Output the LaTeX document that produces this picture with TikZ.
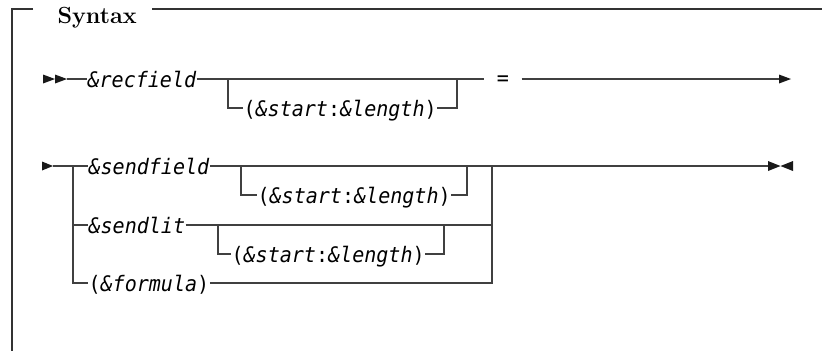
\documentclass[tikz,border=0pt]{standalone}
\usepackage{xcolor}
\usepackage{fontspec}
\usepackage{tikz}
\newfontfamily\railfont{DejaVu Sans Mono}[ItalicFont={DejaVu Sans Mono Oblique}, FakeStretch=0.94]
\newcommand{\railvar}[1]{{\itshape #1}}
\tikzset{
    rail/.style={font=\railfont\fontsize{16}{19}\selectfont, inner sep=0pt, text height=12.6pt, text depth=0pt, anchor=west},
    railtip/.style={fill=black!90},
    frame/.style={draw=black!80, line width=0.8pt}
}
\begin{document}
\begin{tikzpicture}[x=0.75pt,y=0.75pt,yscale=-1,xscale=1,line width=0.8pt,draw=black!75]
    \useasboundingbox (0,0) rectangle (822,351);
    \draw [frame] (33,9) -- (12,9) -- (12,351) ;
    \draw [frame] (152,9) -- (822,9) ;
    \node [anchor=base west, inner sep=0pt, font=\fontsize{17.5}{21}\selectfont\bfseries] (syntax) at (57,23) {Syntax};

    \fill [railtip] (43,74.5) -- (55,79) -- (43,83.5) -- cycle ;
    \fill [railtip] (55,74.5) -- (67,79) -- (55,83.5) -- cycle ;
    \coordinate (in1) at (67,79);
    \coordinate (split1) at (228,79);
    \coordinate (join1) at (457,79);
    \coordinate (out1) at (779,79);
    \node [rail] (recfield) at (87,79) {\railvar{\&recfield}};
    \node [rail] (range1) at (243,108) {(\railvar{\&start}:\railvar{\&length})};
    \node [rail, anchor=center, text height=10pt, inner xsep=9pt] (eq) at (503,79) {=};
    \draw (in1) -- (recfield.west) ;
    \draw (recfield.east) -- (eq.west) ;
    \draw (split1) |- (range1.west) ;
    \draw (range1.east) -| (join1) ;
    \draw (eq.east) -- (out1) ;
    \fill [railtip] (779,74.5) -- (791,79) -- (779,83.5) -- cycle ;

    \fill [railtip] (42,161.5) -- (53,166) -- (42,170.5) -- cycle ;
    \coordinate (in2) at (53,166);
    \coordinate (fork) at (73,166);
    \coordinate (split2) at (241,166);
    \coordinate (join2) at (467,166);
    \coordinate (split3) at (218,225);
    \coordinate (join3) at (444,225);
    \coordinate (merge) at (492,166);
    \coordinate (out2) at (768,166);
    \node [rail] (sendfield) at (88,166) {\railvar{\&sendfield}};
    \node [rail] (range2) at (257,195) {(\railvar{\&start}:\railvar{\&length})};
    \node [rail] (sendlit) at (88,225) {\railvar{\&sendlit}};
    \node [rail] (range3) at (231,254) {(\railvar{\&start}:\railvar{\&length})};
    \node [rail] (formula) at (88,283) {(\railvar{\&formula})};
    \draw (in2) -- (sendfield.west) ;
    \draw (fork) |- (sendlit.west) ;
    \draw (fork) |- (formula.west) ;
    \draw (sendfield.east) -- (merge) -- (out2) ;
    \draw (split2) |- (range2.west) ;
    \draw (range2.east) -| (join2) ;
    \draw (sendlit.east) -- (sendlit.east -| merge) ;
    \draw (split3) |- (range3.west) ;
    \draw (range3.east) -| (join3) ;
    \draw (formula.east) -| (merge) ;
    \fill [railtip] (768,161) -- (780.5,166) -- (768,171) -- cycle ;
    \fill [railtip] (793,161) -- (780.5,166) -- (793,171) -- cycle ;
\end{tikzpicture}
\end{document}
